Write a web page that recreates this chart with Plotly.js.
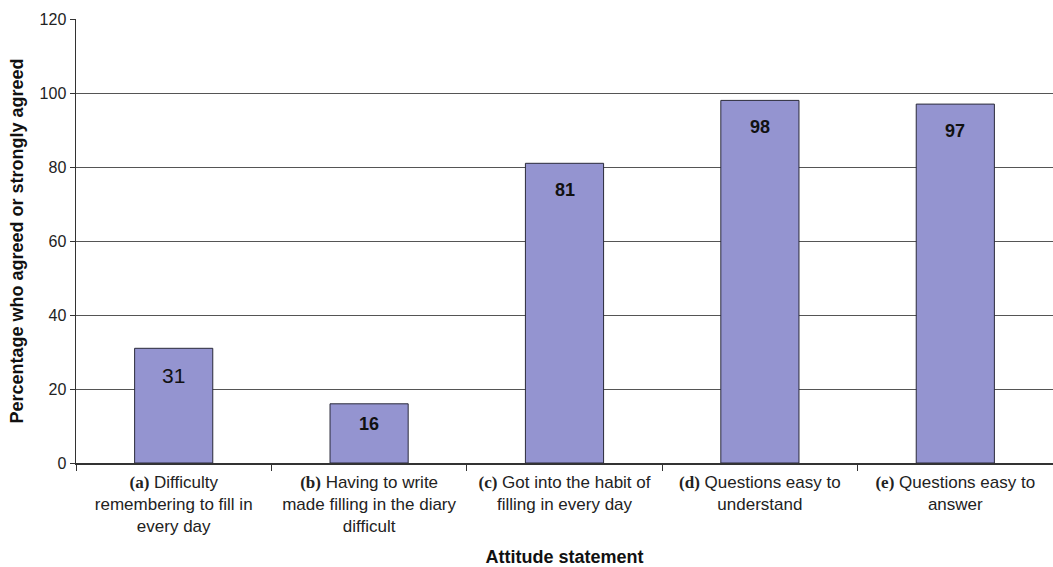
<!DOCTYPE html>
<html>
<head>
<meta charset="utf-8">
<script src="https://cdn.plot.ly/plotly-3.0.1.min.js"></script>
<style>html,body{margin:0;padding:0;background:#fff;}#chart{width:1053px;height:567px;}</style>
</head>
<body>
<div id="chart"></div>
<script>
const letters = ["(a)", "(b)", "(c)", "(d)", "(e)"];
const statements = [
  "Difficulty<br>remembering to fill in<br>every day",
  "Having to write<br>made filling in the diary<br>difficult",
  "Got into the habit of<br>filling in every day",
  "Questions easy to<br>understand",
  "Questions easy to<br>answer"
];
const values = [31, 16, 81, 98, 97];
const yTicks = [0, 20, 40, 60, 80, 100, 120];

const cats = letters.map((l, i) => '<span style="font-family:Liberation Serif,serif;font-weight:bold">' + l + '</span> ' + statements[i]);

const trace = {
  type: 'bar',
  x: cats,
  y: values,
  marker: {color: '#9494d0', line: {color: '#2a2a3a', width: 1}},
  hoverinfo: 'none',
  width: 0.4
};

const annotations = values.map((v, i) => ({
  x: cats[i], y: v, xref: 'x', yref: 'y',
  text: i === 0 ? String(v) : '<b>' + v + '</b>',
  showarrow: false, yshift: v < 20 ? -20 : -27,
  font: {family: 'Liberation Sans, Arial, sans-serif', size: i === 0 ? 21 : 18, color: '#111'}
}));

const layout = {
  width: 1053, height: 567,
  margin: {l: 76, r: 0, t: 19, b: 104},
  paper_bgcolor: '#fff', plot_bgcolor: '#fff',
  font: {family: 'Liberation Sans, Arial, sans-serif', color: '#222', size: 16},
  showlegend: false,
  xaxis: {
    type: 'category',
    tickson: 'boundaries',
    ticks: 'outside', ticklen: 6, tickcolor: '#333', tickwidth: 1,
    ticklabelstandoff: 3,
    showline: true, linecolor: '#333', linewidth: 1.5,
    showgrid: false,
    tickfont: {size: 17, color: '#222'},
    title: {text: '<b>Attitude statement</b>', font: {size: 18, color: '#111'}, standoff: 17},
    automargin: false
  },
  yaxis: {
    range: [0, 120],
    tickvals: yTicks,
    ticktext: yTicks.map(String),
    ticks: 'outside', ticklen: 5, tickcolor: '#333',
    showline: true, linecolor: '#333', linewidth: 1.5,
    showgrid: true, gridcolor: '#555', gridwidth: 1,
    zeroline: false,
    tickfont: {size: 16, color: '#222'},
    title: {text: '<b>Percentage who agreed or strongly agreed</b>', font: {size: 18, color: '#111'}, standoff: 11},
    automargin: false
  },
  annotations: annotations
};

Plotly.newPlot('chart', [trace], layout, {displayModeBar: false, staticPlot: true});
</script>
</body>
</html>
